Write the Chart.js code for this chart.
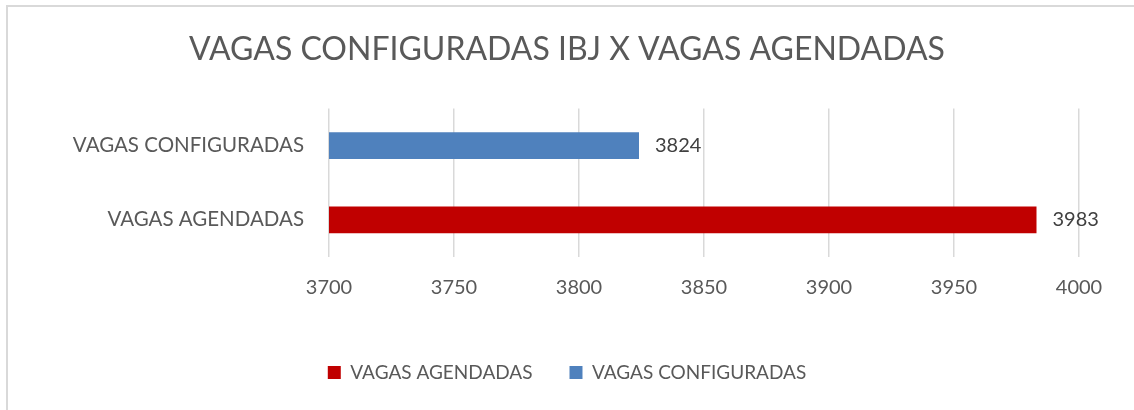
<!DOCTYPE html>
<html>
<head>
<meta charset="utf-8">
<script src="https://cdn.jsdelivr.net/npm/chart.js@4"></script>
<style>
  html, body { margin: 0; padding: 0; background: #fff; overflow: hidden; }
  #wrap { position: relative; width: 1134px; height: 410px; overflow: hidden; }
  #frame { position: absolute; left: 6px; top: 5px; width: 1160px; height: 440px; border: 2px solid #d9d9d9; }
  canvas { position: absolute; left: 0; top: 0; }
</style>
</head>
<body>
<div id="wrap">
  <div id="frame"></div>
  <canvas id="chart" width="1134" height="410"></canvas>
</div>
<script>
// Dados do gráfico
const categories = ["VAGAS CONFIGURADAS", "VAGAS AGENDADAS"];
const vagasAgendadas = [null, 3983];
const vagasConfiguradas = [3824, null];
const xMin = 3700;
const xMax = 4000;
const xStep = 50;

const FONT = "Lato, 'Open Sans', sans-serif";

// rótulos de valor no fim da barra
const barLabels = {
  id: "barLabels",
  afterDatasetsDraw(chart) {
    const ctx = chart.ctx;
    ctx.save();
    ctx.font = "20px " + FONT;
    ctx.fillStyle = "#404040";
    ctx.textBaseline = "middle";
    ctx.textAlign = "left";
    chart.data.datasets.forEach((ds, i) => {
      chart.getDatasetMeta(i).data.forEach((bar, j) => {
        const v = ds.data[j];
        if (v == null) return;
        ctx.fillText(String(v), bar.x + 16, bar.y);
      });
    });
    ctx.restore();
  },
};

new Chart(document.getElementById("chart"), {
  type: "bar",
  data: {
    labels: categories,
    datasets: [
      {
        label: "VAGAS AGENDADAS",
        data: vagasAgendadas,
        backgroundColor: "#c00000",
      },
      {
        label: "VAGAS CONFIGURADAS",
        data: vagasConfiguradas,
        backgroundColor: "#4f81bd",
      },
    ],
  },
  options: {
    indexAxis: "y",
    responsive: false,
    animation: false,
    grouped: false,
    categoryPercentage: 1,
    barPercentage: 0.36,
    layout: { padding: { left: 55, right: 55, top: 0, bottom: 18 } },
    plugins: {
      title: {
        display: true,
        text: "VAGAS CONFIGURADAS IBJ X VAGAS AGENDADAS",
        color: "#595959",
        font: { family: FONT, size: 32, weight: "normal" },
        padding: { top: 30, bottom: 40 },
      },
      legend: {
        position: "bottom",
        labels: {
          color: "#595959",
          font: { family: FONT, size: 19 },
          boxWidth: 13,
          boxHeight: 13,
          padding: 37,
        },
      },
      tooltip: { enabled: false },
    },
    scales: {
      x: {
        min: xMin,
        max: xMax,
        ticks: {
          stepSize: xStep,
          color: "#595959",
          font: { family: FONT, size: 20 },
          padding: 19,
          callback: (v) => String(v),
        },
        grid: { color: "#d9d9d9", lineWidth: 1.5, drawTicks: false },
        border: { display: false },
        afterFit(s) { s.height = 69; },
      },
      y: {
        ticks: { color: "#595959", font: { family: FONT, size: 20.5 }, padding: 25 },
        grid: { display: false, drawTicks: false },
        border: { display: false },
        afterFit(s) { s.width = 274; },
      },
    },
  },
  plugins: [barLabels],
});
</script>
</body>
</html>
